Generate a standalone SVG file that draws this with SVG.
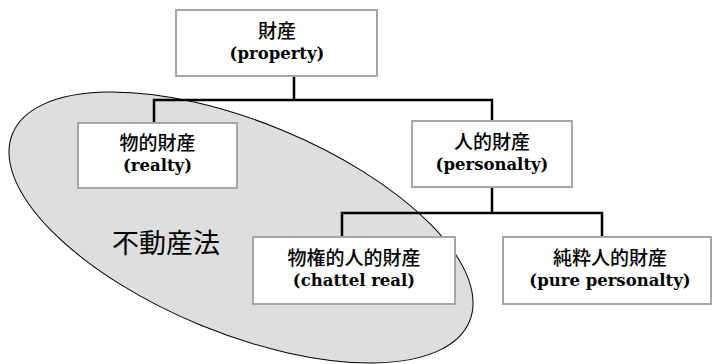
<svg xmlns="http://www.w3.org/2000/svg" width="712" height="364" viewBox="0 0 712 364">
<style>
.box{fill:#ffffff;stroke:#a6a6a6;stroke-width:2}
.conn{fill:none;stroke:#000000;stroke-width:2.5}
.jp{font-family:"Noto Sans CJK JP","Noto Sans CJK SC",sans-serif;font-size:19px;font-weight:500;text-anchor:middle;fill:#000}
.en{font-family:"DejaVu Serif","Liberation Serif",serif;font-size:16.5px;font-weight:bold;text-anchor:middle;fill:#000}
.law{font-family:"Noto Sans CJK JP","Noto Sans CJK SC",sans-serif;font-size:27px;fill:#000}
</style>
<rect width="712" height="364" fill="#ffffff"/>
<g id="area">
<ellipse cx="241" cy="227.5" rx="247" ry="105.7" transform="rotate(22.3 241 227.5)" fill="#dedede" stroke="#000" stroke-width="1"/>
<text class="law" x="112" y="253">不動産法</text>
</g>
<g id="connectors">
<path class="conn" d="M294 76 V100 M154 123 V100 H492 V121"/>
<path class="conn" d="M492 187 V213 M342 237 V213 H602 V237"/>
</g>
<g id="property">
<rect class="box" x="176" y="10" width="201" height="66"/>
<text class="jp" x="277" y="37.5">財産</text>
<text class="en" x="277" y="58.5">(property)</text>
</g>
<g id="realty">
<rect class="box" x="78" y="123" width="159" height="65"/>
<text class="jp" x="157.5" y="150">物的財産</text>
<text class="en" x="157.5" y="171">(realty)</text>
</g>
<g id="personalty">
<rect class="box" x="412" y="121" width="160" height="66"/>
<text class="jp" x="492" y="148.5">人的財産</text>
<text class="en" x="492" y="169.5">(personalty)</text>
</g>
<g id="chattel-real">
<rect class="box" x="253" y="237" width="202" height="67"/>
<text class="jp" x="354" y="265">物権的人的財産</text>
<text class="en" x="354" y="286">(chattel real)</text>
</g>
<g id="pure-personalty">
<rect class="box" x="503" y="237" width="208" height="67"/>
<text class="jp" x="610" y="265">純粋人的財産</text>
<text class="en" x="610" y="286">(pure personalty)</text>
</g>
</svg>
